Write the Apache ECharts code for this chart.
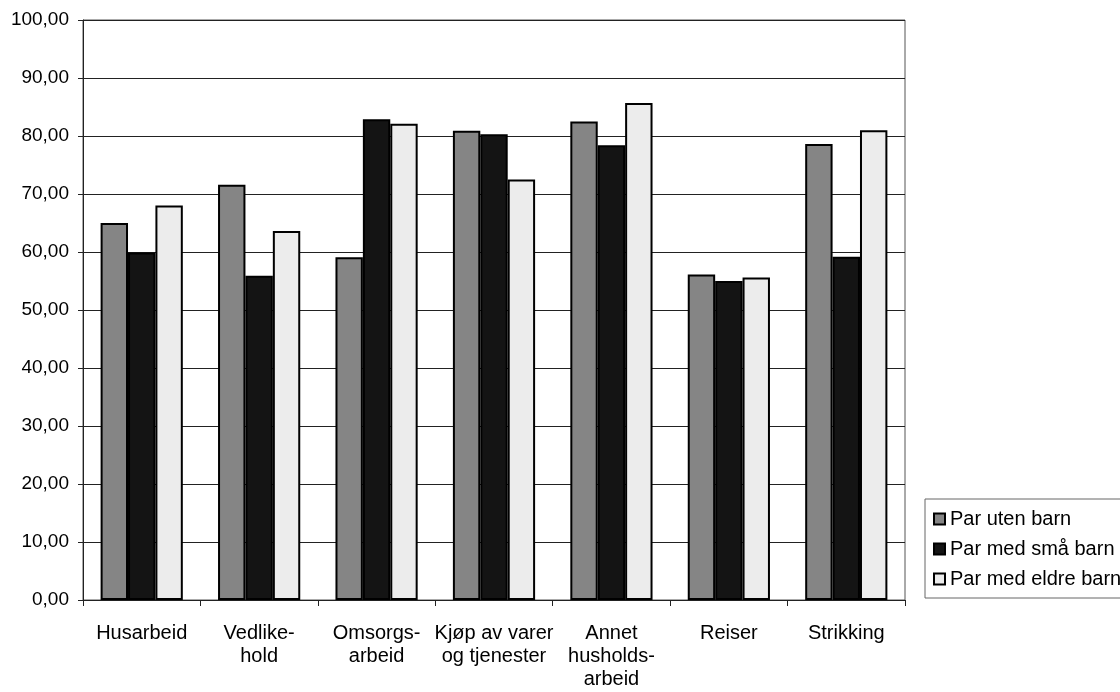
<!DOCTYPE html>
<html>
<head>
<meta charset="utf-8">
<script src="https://cdn.jsdelivr.net/npm/echarts@6/dist/echarts.min.js"></script>
<style>
  html, body { margin: 0; padding: 0; background: #fff; }
  #chart { width: 1120px; height: 692px; }
</style>
</head>
<body>
<div id="chart"></div>
<script>
// kategorier og verdier (prosent)
var categories = [
  "Husarbeid",
  "Vedlike-\nhold",
  "Omsorgs-\narbeid",
  "Kjøp av varer\nog tjenester",
  "Annet\nhusholds-\narbeid",
  "Reiser",
  "Strikking"
];
var seriesNames = ["Par uten barn", "Par med små barn", "Par med eldre barn"];
var parUtenBarn = [65.0, 71.6, 59.1, 80.9, 82.5, 56.1, 78.6];
var parMedSmaaBarn = [59.9, 55.9, 82.9, 80.3, 78.4, 55.0, 59.2];
var parMedEldreBarn = [68.0, 63.6, 82.1, 72.5, 85.7, 55.6, 81.0];

var font = "'Liberation Sans', Arial, sans-serif";
var chart = echarts.init(document.getElementById("chart"), null, { renderer: "canvas" });

function bar(name, data, color) {
  return {
    name: name,
    type: "bar",
    data: data,
    barGap: "0%",
    barCategoryGap: "30%",
    itemStyle: { color: color, borderColor: "#000", borderWidth: 2 }
  };
}

chart.setOption({
  animation: false,
  backgroundColor: "#fff",
  textStyle: { fontFamily: font },
  grid: {
    left: 83,
    right: 215,
    top: 20,
    bottom: 92,
    show: true,
    borderColor: "#555",
    borderWidth: 1
  },
  legend: {
    orient: "vertical",
    left: 925,
    top: 499,
    padding: [10, 40, 9, 8],
    itemGap: 10,
    itemWidth: 11,
    itemHeight: 11,
    icon: "rect",
    borderColor: "#666",
    borderWidth: 1,
    textStyle: { fontSize: 20, color: "#000", fontFamily: font },
    data: seriesNames
  },
  xAxis: {
    type: "category",
    data: categories,
    axisLine: { lineStyle: { color: "#222", width: 1 } },
    axisTick: { show: true, length: 6, lineStyle: { color: "#222" } },
    axisLabel: {
      interval: 0,
      margin: 22,
      fontSize: 20,
      lineHeight: 23,
      color: "#000",
      fontFamily: font
    }
  },
  yAxis: {
    type: "value",
    min: 0,
    max: 100,
    interval: 10,
    axisLine: { show: true, lineStyle: { color: "#222", width: 1 } },
    axisTick: { show: true, length: 5, lineStyle: { color: "#222" } },
    splitLine: { show: true, lineStyle: { color: "#222", width: 1 } },
    axisLabel: {
      margin: 14,
      fontSize: 19,
      color: "#000",
      fontFamily: font,
      formatter: function (v) {
        return v.toFixed(2).replace(".", ",");
      }
    }
  },
  series: [
    bar(seriesNames[0], parUtenBarn, "#858585"),
    bar(seriesNames[1], parMedSmaaBarn, "#141414"),
    bar(seriesNames[2], parMedEldreBarn, "#ececec")
  ]
});
</script>
</body>
</html>
